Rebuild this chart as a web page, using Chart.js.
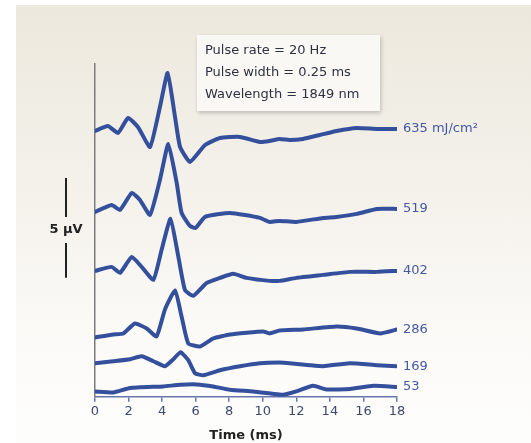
<!DOCTYPE html>
<html>
<head>
<meta charset="utf-8">
<script src="https://cdn.jsdelivr.net/npm/chart.js@4"></script>
<style>
  body { margin: 0; background: #fff; }
  #panel {
    position: absolute; left: 16px; top: 5px; width: 515px; height: 438px;
    background: linear-gradient(#ece8dd 0%, #f5f2ec 45%, #fbfaf7 75%, #fdfdfc 100%);
  }
  #wrap { position: absolute; left: 0; top: 0; width: 531px; height: 443px; }
  #info {
    position: absolute; left: 197px; top: 35px; width: 183px; height: 76px;
    background: #f9f8f5; box-shadow: 1px 2px 4px rgba(0,0,0,0.22);
    font: 13px 'DejaVu Sans', sans-serif; color: #2e3240; line-height: 22px;
    padding: 4px 0 0 8px; box-sizing: border-box;
  }
</style>
</head>
<body>
<div id="panel"></div>
<div id="wrap"><canvas id="chart" width="531" height="443"></canvas></div>
<div id="info">Pulse rate = 20 Hz<br>Pulse width = 0.25 ms<br>Wavelength = 1849 nm</div>
<script>
// fluence labels, top trace first
const energies = ['635 mJ/cm\u00b2', '519', '402', '286', '169', '53'];
// vertical stacking of each trace (µV)
const baselines = [13.3, 9.25, 6.3, 2.97, 1.68, 0.27];

// [time ms, response µV]
const trace635 = [[0,0],[0.77,0.25],[1.37,-0.1],[1.97,0.65],[2.56,0.2],[3.28,-0.8],[3.87,1.2],[4.33,2.9],[4.77,0.7],[5.07,-0.8],[5.66,-1.55],[6.56,-0.7],[7.45,-0.35],[8.64,-0.3],[9.83,-0.55],[10.4,-0.5],[11.0,-0.4],[11.6,-0.45],[12.4,-0.4],[13.4,-0.2],[14.4,0],[15.6,0.15],[16.8,0.1],[18,0.1]];
const trace519 = [[0,0],[0.99,0.35],[1.49,0.1],[2.19,0.95],[2.68,0.6],[3.28,-0.15],[3.87,1.6],[4.37,3.4],[4.87,1.45],[5.16,-0.05],[5.66,-0.7],[6.0,-0.8],[6.56,-0.25],[8.05,-0.05],[9.83,-0.3],[10.4,-0.5],[11,-0.45],[12,-0.5],[13.6,-0.3],[14.4,-0.25],[15.6,-0.1],[16.8,0.15],[18,0.15]];
const trace402 = [[0,0],[0.99,0.2],[1.49,-0.1],[2.19,0.7],[2.78,0.2],[3.48,-0.45],[3.97,1.05],[4.5,2.6],[4.97,0.7],[5.36,-0.95],[5.86,-1.25],[6.66,-0.6],[7.45,-0.35],[8.24,-0.15],[9.04,-0.35],[10.4,-0.5],[11,-0.5],[12,-0.35],[13.6,-0.2],[15.2,-0.05],[16.8,-0.05],[18,0]];
const trace286 = [[0,0],[1.09,0.15],[1.69,0.2],[2.38,0.7],[3.08,0.45],[3.67,0.05],[4.17,1.4],[4.77,2.35],[5.16,1.05],[5.56,-0.3],[6.26,-0.45],[7.05,-0.05],[8.05,0.15],[10.03,0.3],[10.4,0.2],[11,0.35],[12.4,0.4],[14.4,0.55],[15.6,0.45],[17,0.2],[18,0.4]];
const trace169 = [[0,0],[1.09,0.1],[2.09,0.2],[2.78,0.35],[3.48,0.1],[4.17,-0.15],[4.67,0.2],[5.1,0.55],[5.56,0.15],[5.96,-0.5],[6.46,-0.6],[7.45,-0.35],[8.64,-0.15],[9.83,0],[11,0.03],[11.6,0],[12.8,-0.1],[13.6,-0.15],[15.2,0],[16.8,-0.1],[18,-0.15]];
const trace53 = [[0,0],[1.09,-0.05],[2.09,0.17],[4.07,0.25],[5.07,0.33],[6.06,0.35],[7.05,0.25],[8.05,0.08],[9.43,0],[10.6,-0.12],[11.2,-0.17],[12.0,0],[13.0,0.28],[13.8,0.1],[15.2,0.12],[16.6,0.28],[18,0.22]];

const traces = [trace635, trace519, trace402, trace286, trace169, trace53];
const xTicks = [0, 2, 4, 6, 8, 10, 12, 14, 16, 18];

const traceColor = '#34509c';

const datasets = traces.map((tr, i) => ({
  label: energies[i],
  data: tr.map(p => ({ x: p[0], y: p[1] + baselines[i] })),
  borderColor: traceColor,
  borderWidth: 4,
  pointRadius: 0,
  tension: 0.15,
  borderCapStyle: 'round',
  borderJoinStyle: 'round',
  fill: false
}));

// fluence labels at the end of each trace + 5 µV scale bar
const extras = {
  id: 'extras',
  afterDatasetsDraw(chart) {
    const ctx = chart.ctx;
    ctx.save();
    ctx.font = '13px "DejaVu Sans", sans-serif';
    ctx.fillStyle = '#4559a3';
    ctx.textBaseline = 'middle';
    ctx.textAlign = 'left';
    chart.data.datasets.forEach((ds, i) => {
      const pts = chart.getDatasetMeta(i).data;
      const last = pts[pts.length - 1];
      ctx.fillText(ds.label, last.x + 6, last.y);
    });

    const y = chart.scales.y;
    const top = y.getPixelForValue(10.95);
    const bot = y.getPixelForValue(5.95);
    const mid = (top + bot) / 2;
    const bx = 66;
    ctx.strokeStyle = '#222';
    ctx.lineWidth = 2;
    ctx.beginPath();
    ctx.moveTo(bx, top); ctx.lineTo(bx, mid - 11);
    ctx.moveTo(bx, mid + 15); ctx.lineTo(bx, bot);
    ctx.stroke();
    ctx.font = 'bold 13px "DejaVu Sans", sans-serif';
    ctx.fillStyle = '#222';
    ctx.textAlign = 'center';
    ctx.fillText('5 \u00b5V', bx, mid + 2);
    ctx.restore();
  }
};

new Chart(document.getElementById('chart'), {
  type: 'line',
  data: { datasets },
  options: {
    responsive: false,
    animation: false,
    layout: { padding: { left: 95, right: 134, top: 64, bottom: 0 } },
    plugins: { legend: { display: false }, tooltip: { enabled: false } },
    scales: {
      x: {
        type: 'linear',
        min: 0, max: 18,
        afterBuildTicks: (s) => { s.ticks = xTicks.map(v => ({ value: v })); },
        border: { display: true, color: '#6676ad', width: 1.5 },
        grid: { display: true, drawOnChartArea: false, drawTicks: true, tickLength: 5, color: '#6676ad', lineWidth: 1.5 },
        ticks: { color: '#3e4a6c', padding: 2, font: { family: 'DejaVu Sans', size: 13 }, maxRotation: 0 },
        title: { display: true, text: 'Time (ms)', color: '#222', padding: { top: 6, bottom: 0 }, font: { family: 'DejaVu Sans', size: 13, weight: 'bold' } }
      },
      y: {
        min: 0, max: 16.65,
        border: { display: true, color: '#7c7c7c', width: 1.5 },
        grid: { display: false, drawTicks: false },
        ticks: { display: false }
      }
    }
  },
  plugins: [extras]
});
</script>
</body>
</html>
